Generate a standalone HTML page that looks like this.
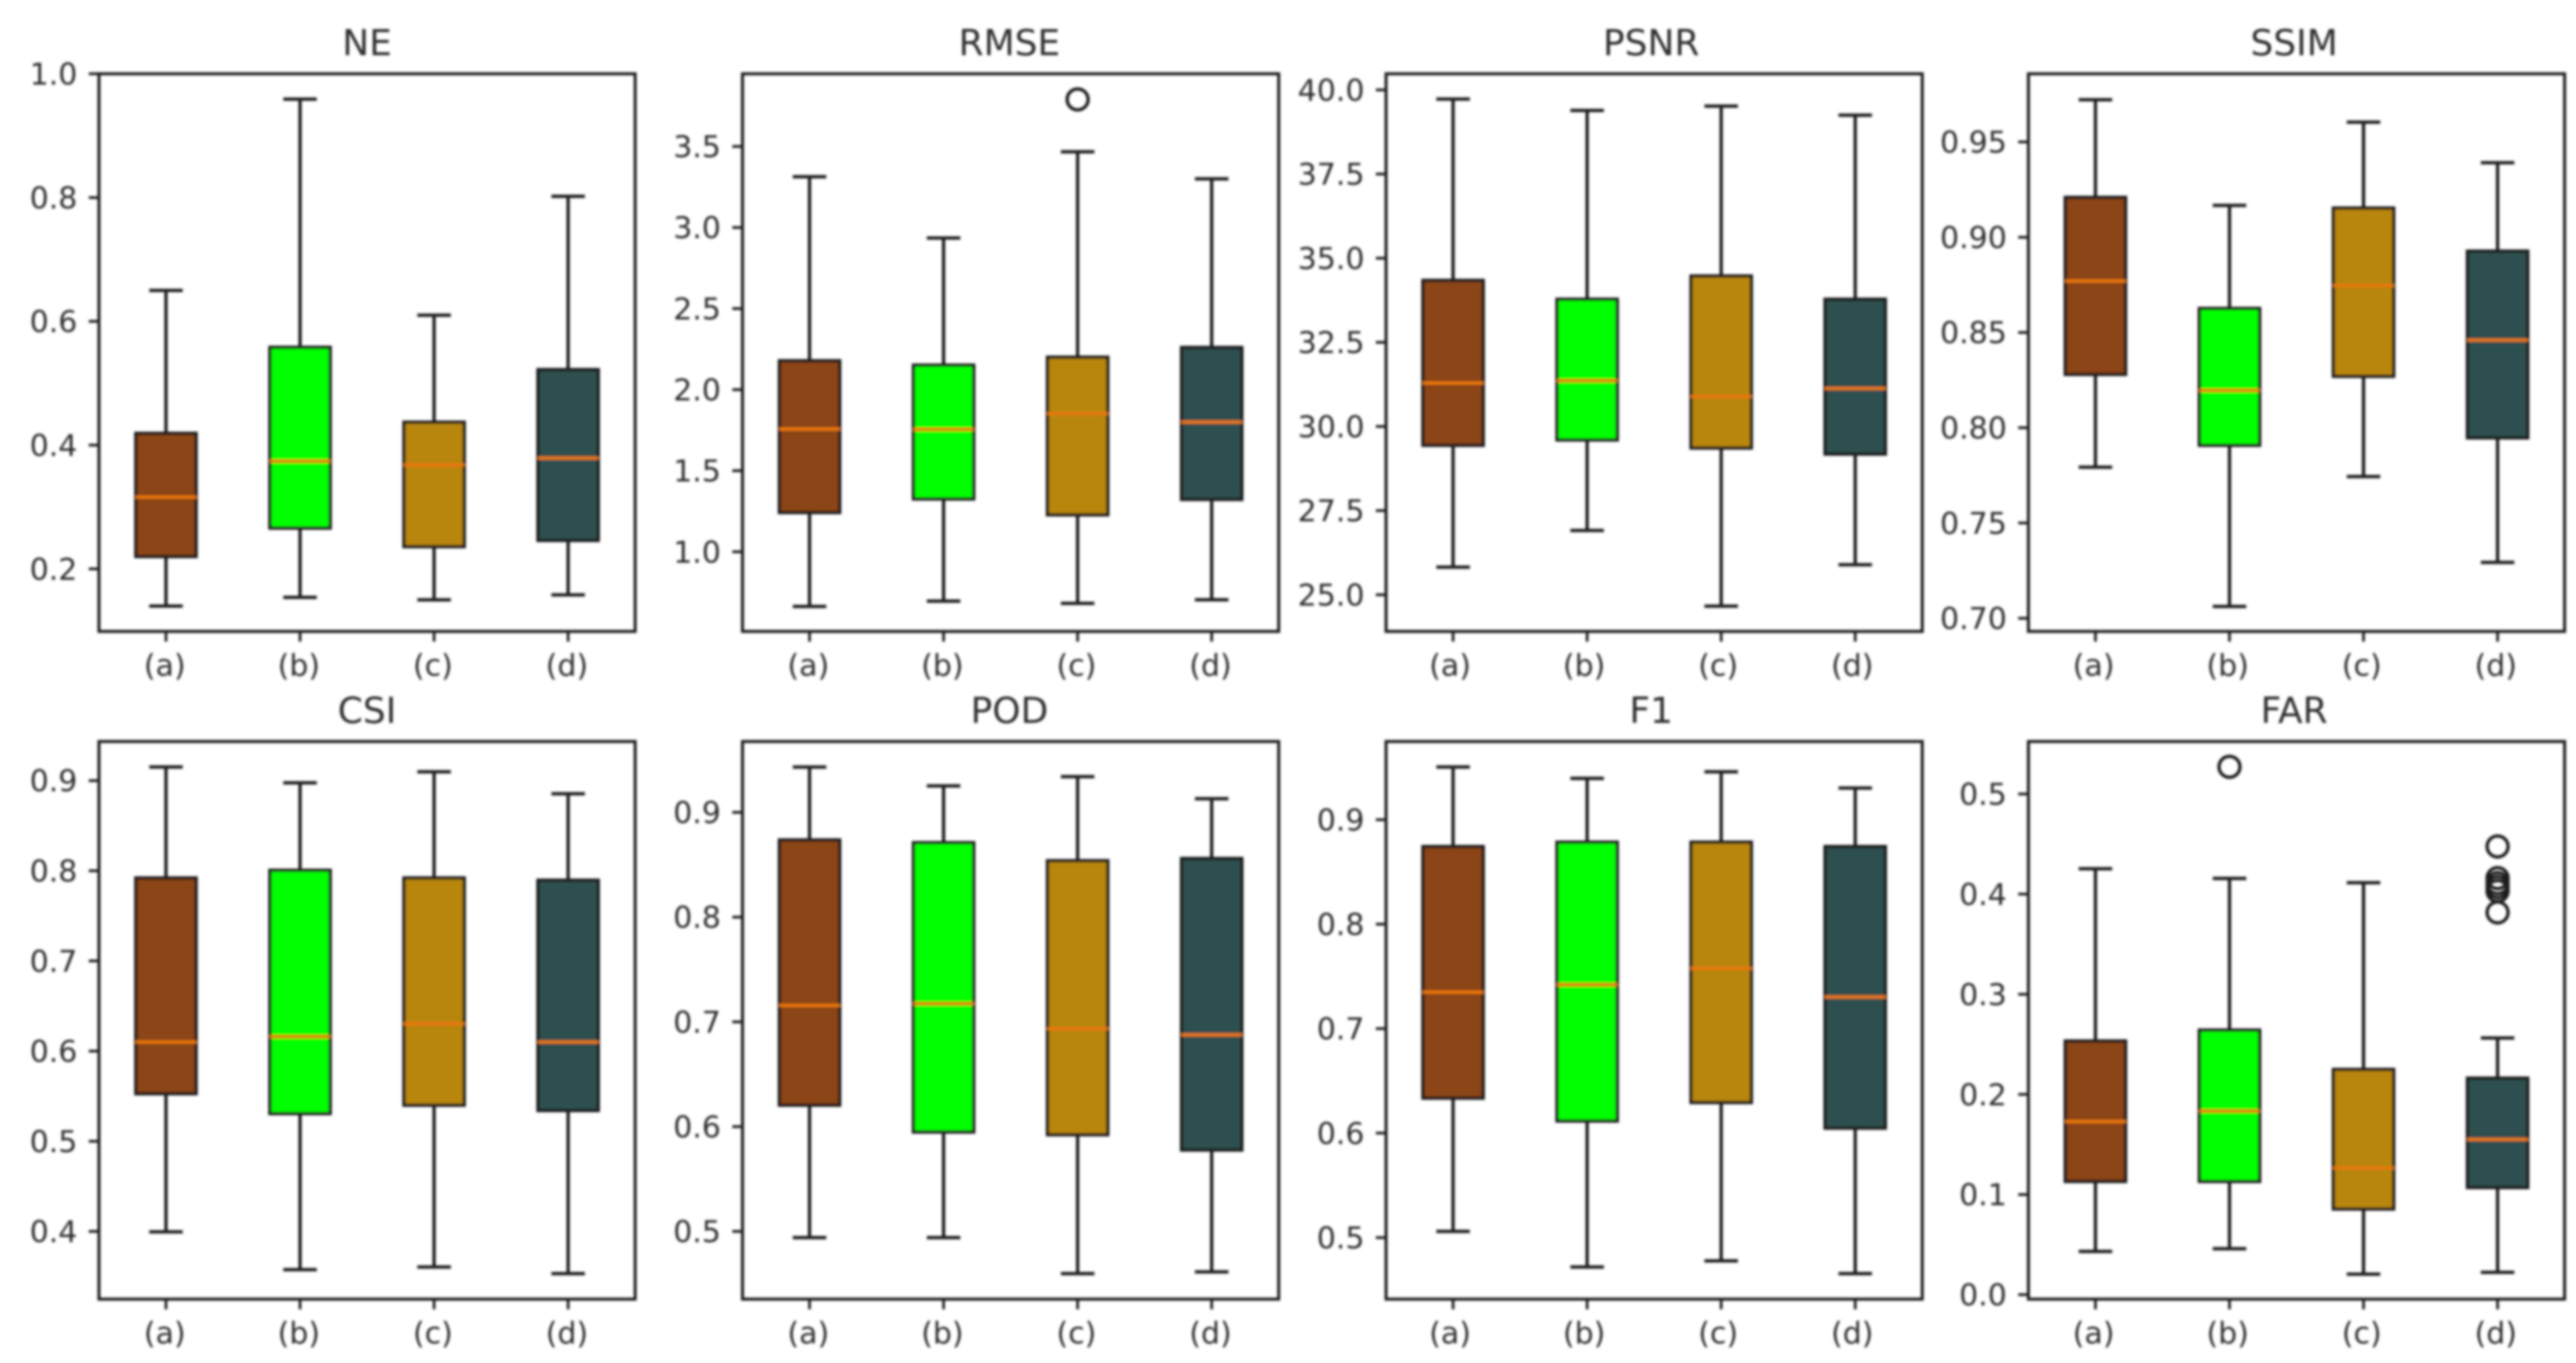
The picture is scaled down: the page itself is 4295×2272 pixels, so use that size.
<!DOCTYPE html>
<html lang="en">
<head>
<meta charset="utf-8">
<title>Boxplots of eight metrics</title>
<style>
html,body{margin:0;padding:0;background:#fff;width:4295px;height:2272px;overflow:hidden}
svg{display:block}
text{font-family:"DejaVu Sans","Liberation Sans",sans-serif;fill:#2e2e2e}
</style>
</head>
<body>
<svg id="chart" xmlns="http://www.w3.org/2000/svg" width="4295" height="2272" viewBox="0 0 4295 2272">
<defs><filter id="soft" x="0" y="0" width="4295" height="2272" filterUnits="userSpaceOnUse" primitiveUnits="userSpaceOnUse"><feGaussianBlur stdDeviation="2"/></filter></defs>
<rect x="0" y="0" width="4295" height="2272" fill="#ffffff"/>
<g id="root" filter="url(#soft)"></g>
</svg>
<script>
const categories = ['(a)', '(b)', '(c)', '(d)'];
const boxColors = ['#8B4513', '#00FF00', '#B8860B', '#2F4F4F'];

const neTicks = ['0.2', '0.4', '0.6', '0.8', '1.0'];
const neLimits = [0.099, 1.0];
const neLow = [0.140, 0.154, 0.150, 0.158];
const neQ1 = [0.220, 0.266, 0.236, 0.246];
const neMedian = [0.316, 0.374, 0.368, 0.379];
const neQ3 = [0.419, 0.558, 0.437, 0.522];
const neHigh = [0.650, 0.959, 0.610, 0.802];
const neOutliers = [[], [], [], []];

const rmseTicks = ['1.0', '1.5', '2.0', '2.5', '3.0', '3.5'];
const rmseLimits = [0.509, 3.948];
const rmseLow = [0.663, 0.696, 0.682, 0.704];
const rmseQ1 = [1.242, 1.326, 1.228, 1.323];
const rmseMedian = [1.757, 1.755, 1.852, 1.800];
const rmseQ3 = [2.178, 2.151, 2.200, 2.260];
const rmseHigh = [3.313, 2.935, 3.467, 3.300];
const rmseOutliers = [[], [], [3.79], []];

const psnrTicks = ['25.0', '27.5', '30.0', '32.5', '35.0', '37.5', '40.0'];
const psnrLimits = [23.91, 40.48];
const psnrLow = [25.82, 26.91, 24.66, 25.89];
const psnrQ1 = [29.44, 29.60, 29.36, 29.18];
const psnrMedian = [31.29, 31.36, 30.89, 31.13];
const psnrQ3 = [34.34, 33.78, 34.47, 33.78];
const psnrHigh = [39.73, 39.39, 39.52, 39.25];
const psnrOutliers = [[], [], [], []];

const ssimTicks = ['0.70', '0.75', '0.80', '0.85', '0.90', '0.95'];
const ssimLimits = [0.6931, 0.9858];
const ssimLow = [0.7793, 0.7062, 0.7744, 0.7293];
const ssimQ1 = [0.8280, 0.7908, 0.8270, 0.7947];
const ssimMedian = [0.8770, 0.8196, 0.8746, 0.8460];
const ssimQ3 = [0.9209, 0.8626, 0.9153, 0.8927];
const ssimHigh = [0.9722, 0.9167, 0.9604, 0.9391];
const ssimOutliers = [[], [], [], []];

const csiTicks = ['0.4', '0.5', '0.6', '0.7', '0.8', '0.9'];
const csiLimits = [0.3249, 0.9434];
const csiLow = [0.3995, 0.3576, 0.3605, 0.3532];
const csiQ1 = [0.5527, 0.5307, 0.5400, 0.5341];
const csiMedian = [0.6100, 0.6160, 0.6302, 0.6100];
const csiQ3 = [0.7920, 0.8005, 0.7920, 0.7895];
const csiHigh = [0.9151, 0.8976, 0.9098, 0.8854];
const csiOutliers = [[], [], [], []];

const podTicks = ['0.5', '0.6', '0.7', '0.8', '0.9'];
const podLimits = [0.4354, 0.9676];
const podLow = [0.4941, 0.4941, 0.4597, 0.4614];
const podQ1 = [0.6205, 0.5949, 0.5923, 0.5777];
const podMedian = [0.7157, 0.7174, 0.6935, 0.6876];
const podQ3 = [0.8736, 0.8710, 0.8538, 0.8559];
const podHigh = [0.9432, 0.9252, 0.9340, 0.9130];
const podOutliers = [[], [], [], []];

const f1Ticks = ['0.5', '0.6', '0.7', '0.8', '0.9'];
const f1Limits = [0.4411, 0.9749];
const f1Low = [0.5059, 0.4718, 0.4777, 0.4655];
const f1Q1 = [0.6335, 0.6116, 0.6293, 0.6048];
const f1Median = [0.7349, 0.7421, 0.7577, 0.7303];
const f1Q3 = [0.8743, 0.8785, 0.8785, 0.8743];
const f1High = [0.9505, 0.9396, 0.9459, 0.9303];
const f1Outliers = [[], [], [], []];

const farTicks = ['0.0', '0.1', '0.2', '0.3', '0.4', '0.5'];
const farLimits = [-0.0044, 0.5524];
const farLow = [0.0432, 0.0459, 0.0205, 0.0223];
const farQ1 = [0.1131, 0.1131, 0.0856, 0.1070];
const farMedian = [0.1729, 0.1834, 0.1266, 0.1550];
const farQ3 = [0.2533, 0.2642, 0.2249, 0.2162];
const farHigh = [0.4253, 0.4157, 0.4114, 0.2563];
const farOutliers = [[], [0.5271], [], [0.4476, 0.4160, 0.4110, 0.4070, 0.4030, 0.3817]];

const panels = [
  {title: 'NE', col: 0, row: 0, ticks: neTicks, lim: neLimits, low: neLow, q1: neQ1, med: neMedian, q3: neQ3, high: neHigh, out: neOutliers},
  {title: 'RMSE', col: 1, row: 0, ticks: rmseTicks, lim: rmseLimits, low: rmseLow, q1: rmseQ1, med: rmseMedian, q3: rmseQ3, high: rmseHigh, out: rmseOutliers},
  {title: 'PSNR', col: 2, row: 0, ticks: psnrTicks, lim: psnrLimits, low: psnrLow, q1: psnrQ1, med: psnrMedian, q3: psnrQ3, high: psnrHigh, out: psnrOutliers},
  {title: 'SSIM', col: 3, row: 0, ticks: ssimTicks, lim: ssimLimits, low: ssimLow, q1: ssimQ1, med: ssimMedian, q3: ssimQ3, high: ssimHigh, out: ssimOutliers},
  {title: 'CSI', col: 0, row: 1, ticks: csiTicks, lim: csiLimits, low: csiLow, q1: csiQ1, med: csiMedian, q3: csiQ3, high: csiHigh, out: csiOutliers},
  {title: 'POD', col: 1, row: 1, ticks: podTicks, lim: podLimits, low: podLow, q1: podQ1, med: podMedian, q3: podQ3, high: podHigh, out: podOutliers},
  {title: 'F1', col: 2, row: 1, ticks: f1Ticks, lim: f1Limits, low: f1Low, q1: f1Q1, med: f1Median, q3: f1Q3, high: f1High, out: f1Outliers},
  {title: 'FAR', col: 3, row: 1, ticks: farTicks, lim: farLimits, low: farLow, q1: farQ1, med: farMedian, q3: farQ3, high: farHigh, out: farOutliers}
];

const NS = 'http://www.w3.org/2000/svg';
const root = document.getElementById('root');
const axisLefts = [165, 1238, 2311, 3382];
const axisWidth = 894;
const axisTops = [123, 1236];
const axisHeight = 929.5;
const titleShift = [0, -2, -5, -4];
const labelShift = [-2, -2, -5, -3];
const inkColor = '#1c1c1c';

function shape(parent, tag, props) {
  const node = document.createElementNS(NS, tag);
  for (const key in props) node.setAttribute(key, props[key]);
  parent.appendChild(node);
  return node;
}

panels.forEach(function (p) {
  const left = axisLefts[p.col];
  const top = axisTops[p.row];
  const bottom = top + axisHeight;
  const right = left + axisWidth;
  const yOf = function (v) { return bottom - (v - p.lim[0]) / (p.lim[1] - p.lim[0]) * axisHeight; };
  const xOf = function (pos) { return left + (pos - 0.5) / 4 * axisWidth; };

  const group = shape(root, 'g', {});
  
  

  const title = shape(group, 'text', {x: (left + right) / 2 + titleShift[p.col], y: top - 31, 'text-anchor': 'middle', 'font-size': 60});
  
  
  title.textContent = p.title;

  p.ticks.forEach(function (label) {
    const y = yOf(parseFloat(label));
    const tick = shape(group, 'line', {x1: left - 17, x2: left, y1: y, y2: y, stroke: inkColor, 'stroke-width': 4.5});
    
    
    const text = shape(group, 'text', {x: left - 36, y: y + 18, 'text-anchor': 'end', 'font-size': 50});
    
    
    text.textContent = label;
  });

  categories.forEach(function (name, i) {
    const cx = xOf(i + 1);
    const halfBox = 0.225 * axisWidth / 4;
    const halfCap = 0.125 * axisWidth / 4;

    const tick = shape(group, 'line', {x1: cx, x2: cx, y1: bottom, y2: bottom + 17, stroke: inkColor, 'stroke-width': 4.5});
    
    

    const label = shape(group, 'text', {x: cx + labelShift[p.col], y: bottom + 74, 'text-anchor': 'middle', 'font-size': 50});
    
    
    label.textContent = name;

    const upper = shape(group, 'line', {x1: cx, x2: cx, y1: yOf(p.high[i]), y2: yOf(p.q3[i]), stroke: inkColor, 'stroke-width': 5.5});
    
    

    const lower = shape(group, 'line', {x1: cx, x2: cx, y1: yOf(p.q1[i]), y2: yOf(p.low[i]), stroke: inkColor, 'stroke-width': 5.5});
    
    

    const capHigh = shape(group, 'line', {x1: cx - halfCap, x2: cx + halfCap, y1: yOf(p.high[i]), y2: yOf(p.high[i]), stroke: inkColor, 'stroke-width': 5.5});
    
    

    const capLow = shape(group, 'line', {x1: cx - halfCap, x2: cx + halfCap, y1: yOf(p.low[i]), y2: yOf(p.low[i]), stroke: inkColor, 'stroke-width': 5.5});
    
    

    const box = shape(group, 'rect', {x: cx - halfBox, width: halfBox * 2, y: yOf(p.q3[i]), height: yOf(p.q1[i]) - yOf(p.q3[i]), fill: boxColors[i], stroke: inkColor, 'stroke-width': 5.5});
    
    

    const median = shape(group, 'line', {x1: cx - halfBox, x2: cx + halfBox, y1: yOf(p.med[i]), y2: yOf(p.med[i]), stroke: '#e9760c', 'stroke-width': 5.5});
    
    

    p.out[i].forEach(function (v) {
      const dot = shape(group, 'circle', {cx: cx, cy: yOf(v), r: 17.5, fill: 'none', stroke: inkColor, 'stroke-width': 5.5});
      
      
    });
  });

  const frame = shape(group, 'rect', {x: left, y: top, width: axisWidth, height: axisHeight, fill: 'none', stroke: inkColor, 'stroke-width': 5});
  
  
});
</script>
</body>
</html>
